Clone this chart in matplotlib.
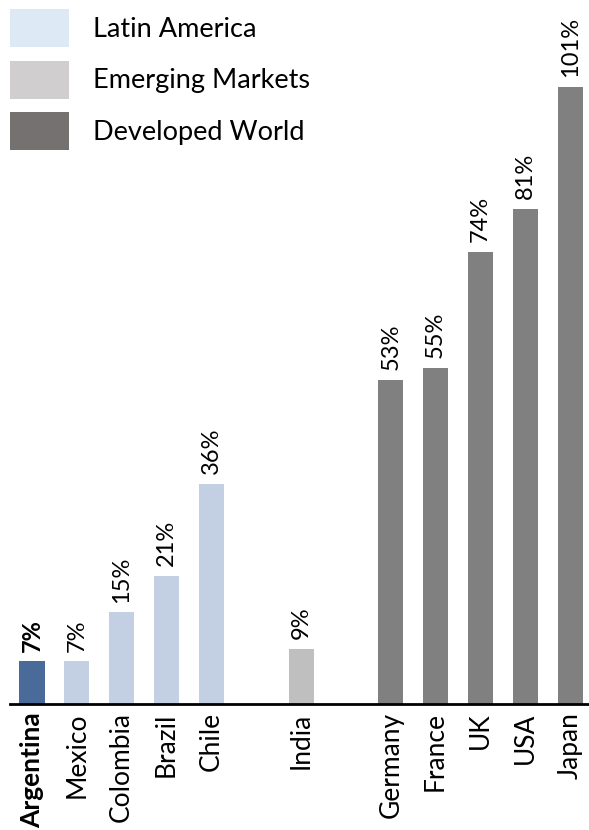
import matplotlib
matplotlib.use("Agg")
import matplotlib.pyplot as plt
from matplotlib.patches import Patch

plt.rcParams['font.family'] = ['Lato', 'DejaVu Sans']

# country groups and values (%)
countries = ["Argentina", "Mexico", "Colombia", "Brazil", "Chile",
             "India",
             "Germany", "France", "UK", "USA", "Japan"]
values = [7, 7, 15, 21, 36, 9, 53, 55, 74, 81, 101]
positions = [0, 1, 2, 3, 4, 6, 8, 9, 10, 11, 12]
bar_colors = ["#4a6a99"] + ["#c3cfe2"] * 4 + ["#bfbfbf"] + ["#808080"] * 5

legend_labels = ["Latin America", "Emerging Markets", "Developed World"]
legend_colors = ["#dde9f5", "#d0cece", "#767171"]

W, H = 589, 830
fig = plt.figure(figsize=(W / 100, H / 100), dpi=100)
ax = fig.add_axes([10 / W, 126 / H, 1 - 10 / W, 1 - 126 / H])

ax.bar(positions, values, width=0.56, color=bar_colors)

for i, (p, v) in enumerate(zip(positions, values)):
    ax.annotate(f"{v}%", (p, v), xytext=(0, 7), textcoords="offset points",
                rotation=90, ha="center", va="bottom", fontsize=17,
                fontweight="bold" if i == 0 else "normal")

ax.set_xlim(-0.49, 12.42)
ax.set_ylim(0, 704 / 6.11)
ax.set_xticks(positions)
ax.set_xticklabels(countries, rotation=90, fontsize=19)
ax.get_xticklabels()[0].set_fontweight("bold")
ax.tick_params(axis="x", length=0, pad=6)
ax.set_yticks([])
for s in ["top", "right", "left"]:
    ax.spines[s].set_visible(False)
ax.spines["bottom"].set_linewidth(2)

handles = [Patch(facecolor=c, edgecolor="none") for c in legend_colors]
fig.legend(handles, legend_labels, loc="upper left",
           bbox_to_anchor=(10 / W, 1 - 9 / H), frameon=False, fontsize=19.5,
           handlelength=2.18, handleheight=1.785, handletextpad=0.89,
           labelspacing=0.5, borderpad=0, borderaxespad=0)

fig.savefig("out.png", dpi=100)
